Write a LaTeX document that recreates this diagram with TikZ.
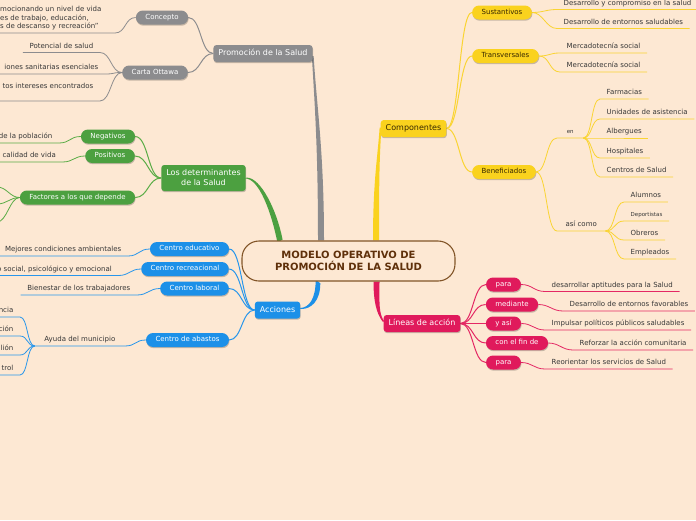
\documentclass[tikz,border=0pt]{standalone}
\usepackage{fontspec}
\setmainfont{DejaVu Sans}
\usetikzlibrary{calc,shadows}
\definecolor{bgc}{RGB}{253,232,211}
\definecolor{gcol}{RGB}{140,140,142}
\definecolor{gln}{RGB}{140,140,142}
\definecolor{grn}{RGB}{76,160,64}
\definecolor{grnl}{RGB}{90,172,70}
\definecolor{blu}{RGB}{28,144,232}
\definecolor{blul}{RGB}{40,150,235}
\definecolor{yel}{RGB}{250,210,30}
\definecolor{yell}{RGB}{250,212,50}
\definecolor{pnk}{RGB}{224,26,92}
\definecolor{pnkl}{RGB}{228,40,100}
\definecolor{brownb}{RGB}{130,85,40}
\definecolor{brownt}{RGB}{95,48,10}
\definecolor{leaftxt}{RGB}{55,55,55}
\definecolor{ytxt}{RGB}{55,40,0}
\pgfdeclarelayer{bg}
\pgfdeclarelayer{edges}
\pgfsetlayers{bg,edges,main}
\newcommand\mybranch[6]{\fill[#1] ($(#2)-(#6)$) .. controls +(#4) and +(#5) .. ($(#3)-0.3*(#6)$) -- ($(#3)+0.3*(#6)$) .. controls +(#5) and +(#4) .. ($(#2)+(#6)$) -- cycle;}
\newcommand\conR[3]{\draw[#1] (#2) .. controls +(11,0) and +(-11,0) .. (#3.south west) -- (#3.south east);}
\newcommand\conL[3]{\draw[#1] (#2) .. controls +(-11,0) and +(11,0) .. (#3.south east) -- (#3.south west);}
\newcommand\linkR[3]{\draw[#1] (#2.east) .. controls +(13,0) and +(-13,0) .. (#3.west);}
\newcommand\linkL[3]{\draw[#1] (#2.west) .. controls +(-13,0) and +(13,0) .. (#3.east);}
\tikzset{
  shad/.style={drop shadow={shadow xshift=0.5pt,shadow yshift=-1.2pt,opacity=0.22,fill=black}},
  mainn/.style={shad,rounded corners=3pt,minimum height=17pt,inner xsep=5pt,inner ysep=0pt,
    font=\fontsize{8}{10}\selectfont,text height=6pt,text depth=1.8pt},
  subn/.style={shad,rounded corners=7pt,minimum height=14pt,inner xsep=9.5pt,inner ysep=0pt,
    font=\fontsize{7}{8.5}\selectfont,text height=5.2pt,text depth=1.5pt},
  leaf/.style={font=\fontsize{7}{8.5}\selectfont,text=leaftxt,inner xsep=6.5pt,inner ysep=2.5pt,
    text height=5.2pt,text depth=1.6pt},
  leafL/.style={leaf,anchor=south east},
  leafR/.style={leaf,anchor=south west},
  tiny/.style={font=\fontsize{5.5}{7}\selectfont},
  gl/.style={draw=gln,line width=1pt},
  gll/.style={draw=gln,line width=0.8pt},
  nl/.style={draw=grnl,line width=1pt},
  nll/.style={draw=grnl,line width=0.8pt},
  bl/.style={draw=blul,line width=1pt},
  bll/.style={draw=blul,line width=0.8pt},
  yl/.style={draw=yell,line width=1pt},
  yll/.style={draw=yell,line width=0.8pt},
  pl/.style={draw=pnkl,line width=1pt},
  pll/.style={draw=pnkl,line width=0.8pt},
}
\begin{document}
\begin{tikzpicture}[x=1pt,y=-1pt]
\useasboundingbox (0,0) rectangle (696,520);
\clip (0,0) rectangle (696,520);
\begin{pgfonlayer}{bg}
\fill[bgc] (0,0) rectangle (696,520);
\end{pgfonlayer}

% central node
\node[draw=brownb,line width=1.1pt,fill=bgc,rounded corners=17pt,minimum width=213pt,minimum height=40pt,
  align=center,font=\fontsize{10}{12}\selectfont\bfseries,text=brownt] (center) at (348.5,261)
  {MODELO OPERATIVO DE\\PROMOCIÓN DE LA SALUD};

% main branch nodes
\node[mainn,fill=gcol,text=white] (promo) at (263,53.5) {Promoción de la Salud};
\node[shad,rounded corners=3pt,minimum height=26pt,inner xsep=5pt,inner ysep=0pt,align=center,
  font=\fontsize{8}{10}\selectfont,fill=grn,text=white] (determ) at (203.5,178) {Los determinantes\\de la Salud};
\node[mainn,fill=blu,text=white] (acciones) at (277.5,310) {Acciones};
\node[mainn,fill=yel,text=ytxt] (comp) at (413.5,128.5) {Componentes};
\node[mainn,fill=pnk,text=white] (lineas) at (422,323.5) {Líneas de acción};

% gray sub nodes
\node[subn,fill=gcol,text=white] (concepto) at (162,17.5) {Concepto};
\node[subn,fill=gcol,text=white] (ottawa) at (155,72.5) {Carta Ottawa};
% green sub nodes
\node[subn,fill=grn,text=white] (neg) at (108,136.5) {Negativos};
\node[subn,fill=grn,text=white] (pos) at (110,156) {Positivos};
\node[subn,fill=grn,text=white] (fact) at (77.5,197.5) {Factores a los que depende};
% blue sub nodes
\node[subn,fill=blu,text=white] (educ) at (189.5,249) {Centro educativo};
\node[subn,fill=blu,text=white] (recre) at (185,269) {Centro recreacional};
\node[subn,fill=blu,text=white] (labo) at (194.5,288.5) {Centro laboral};
\node[subn,fill=blu,text=white] (abas) at (187.5,340) {Centro de abastos};
% yellow sub nodes
\node[subn,fill=yel,text=ytxt] (sust) at (502,12.5) {Sustantivos};
\node[subn,fill=yel,text=ytxt] (trans) at (505.5,56) {Transversales};
\node[subn,fill=yel,text=ytxt] (benef) at (504,172) {Beneficiados};
% pink sub nodes
\node[subn,fill=pnk,text=white] (para1) at (503.5,284.5) {para};
\node[subn,fill=pnk,text=white] (mediante) at (512,304.5) {mediante};
\node[subn,fill=pnk,text=white] (yasi) at (503.5,323.5) {y así};
\node[subn,fill=pnk,text=white] (confin) at (517,343) {con el fin de};
\node[subn,fill=pnk,text=white] (para2) at (503.5,362.5) {para};

% gray leaves
\node[anchor=north west,inner sep=0pt,align=left,font=\fontsize{7}{8.5}\selectfont,text=leaftxt] (conctext) at (0,6.2)
  {mocionando un nivel de vida\\es de trabajo, educación,\\s de descanso y recreación"};
\coordinate (cU) at (115,33);
\coordinate (cUL) at (-5,33);
\node[leafL] (pot) at (100,52.5) {Potencial de salud};
\node[leafL] (san) at (105,74) {iones sanitarias esenciales};
\node[leafL,text depth=10pt] (inter) at (100,101) {tos intereses encontrados};
% green leaves
\node[leafL] (pob) at (59,143) {de la población};
\node[leafL] (cal) at (62.5,162) {a calidad de vida};
\coordinate (f1) at (-3,187);
\coordinate (f2) at (-3,204);
\coordinate (f3) at (-3,222);
% blue leaves
\node[leafL] (amb) at (128,256) {Mejores condiciones ambientales};
\node[leafL] (psi) at (118.5,275.5) {o social, psicológico y emocional};
\node[leafL] (bien) at (137,295) {Bienestar de los trabajadores};
\node[leafL,inner xsep=9.5pt] (ayuda) at (125,346) {Ayuda del municipio};
\node[leafL] (a1) at (20,317) {ncia};
\node[leafL] (a2) at (20,336) {ción};
\node[leafL] (a3) at (20,355) {lión};
\node[leafL] (a4) at (20,375) {trol};
% yellow leaves
\node[leafR] (s1) at (557,9.5) {Desarrollo y compromiso en la salud};
\node[leafR] (s2) at (557,28.5) {Desarrollo de entornos saludables};
\node[leafR] (t1) at (560,53) {Mercadotecnía social};
\node[leafR] (t2) at (560,72) {Mercadotecnía social};
\node[leafR,tiny,minimum width=26pt] (en) at (557,138) {en};
\node[leafR] (b1) at (600,99) {Farmacias};
\node[leafR] (b2) at (600,119) {Unidades de asistencia};
\node[leafR] (b3) at (600,138) {Albergues};
\node[leafR] (b4) at (600,158) {Hospitales};
\node[leafR] (b5) at (600,177) {Centros de Salud};
\node[leafR,minimum width=48pt] (asi) at (557,231) {así como};
\node[leafR] (c1) at (624,202) {Alumnos};
\node[leafR,tiny] (c2) at (624,221) {Deportistas};
\node[leafR] (c3) at (624,240) {Obreros};
\node[leafR] (c4) at (624,259) {Empleados};
% pink leaves
\node[leafR] (p1) at (545,291.5) {desarrollar aptitudes para la Salud};
\node[leafR] (p2) at (563,311) {Desarrollo de entornos favorables};
\node[leafR] (p3) at (545,330) {Impulsar políticos públicos saludables};
\node[leafR] (p4) at (573,350) {Reforzar la acción comunitaria};
\node[leafR] (p5) at (545,369) {Reorientar los servicios de Salud};

\begin{pgfonlayer}{edges}
% main tapered branches
\mybranch{gcol}{$(center.north)+(-27.5,0)$}{$(promo.east)+(0,2.5)$}{0,-90}{3,50}{3,0}
\mybranch{grn}{$(center.north)+(-68.5,0.5)$}{determ.east}{-6,-30}{14,0}{2.6,-1.4}
\mybranch{blu}{$(center.south)+(-30.5,0)$}{$(acciones.east)+(0,-1.5)$}{0,18}{10,0}{2.3,1.7}
\mybranch{yel}{$(center.north)+(27.5,0)$}{$(comp.west)+(0,-1)$}{0,-60}{-2,30}{3,0}
\mybranch{pnk}{$(center.south)+(28,0)$}{$(lineas.west)+(0,-2)$}{0,20}{-6,-8}{3,0}
% gray
\linkL{gl}{promo}{concepto}
\linkL{gl}{promo}{ottawa}
\draw[gll] (concepto.west) .. controls +(-11,0) and +(11,0) .. (cU) -- (cUL);
\conL{gll}{ottawa.west}{pot}
\conL{gll}{ottawa.west}{san}
\conL{gll}{ottawa.west}{inter}
% green
\linkL{nl}{determ}{neg}
\linkL{nl}{determ}{pos}
\linkL{nl}{determ}{fact}
\conL{nll}{neg.west}{pob}
\conL{nll}{pos.west}{cal}
\draw[nll] (fact.west) .. controls +(-10,0) and +(10,0) .. (f1);
\draw[nll] (fact.west) .. controls +(-10,0) and +(10,0) .. (f2);
\draw[nll] (fact.west) .. controls +(-10,0) and +(10,0) .. (f3);
% blue
\linkL{bl}{acciones}{educ}
\linkL{bl}{acciones}{recre}
\linkL{bl}{acciones}{labo}
\linkL{bl}{acciones}{abas}
\conL{bll}{educ.west}{amb}
\conL{bll}{recre.west}{psi}
\conL{bll}{labo.west}{bien}
\conL{bll}{abas.west}{ayuda}
\draw[bll] (ayuda.south west) .. controls +(-8,0) and +(8,0) .. (a1.south east) -- (a1.south west);
\draw[bll] (ayuda.south west) .. controls +(-8,0) and +(8,0) .. (a2.south east) -- (a2.south west);
\draw[bll] (ayuda.south west) .. controls +(-8,0) and +(8,0) .. (a3.south east) -- (a3.south west);
\draw[bll] (ayuda.south west) .. controls +(-8,0) and +(8,0) .. (a4.south east) -- (a4.south west);
% yellow
\linkR{yl}{comp}{sust}
\linkR{yl}{comp}{trans}
\linkR{yl}{comp}{benef}
\conR{yll}{sust.east}{s1}
\conR{yll}{sust.east}{s2}
\conR{yll}{trans.east}{t1}
\conR{yll}{trans.east}{t2}
\conR{yll}{benef.east}{en}
\conR{yll}{benef.east}{asi}
\foreach \b in {b1,b2,b3,b4,b5}{
  \draw[yll] (en.south east) .. controls +(9,0) and +(-9,0) .. (\b.south west) -- (\b.south east);}
\foreach \c in {c1,c2,c3,c4}{
  \draw[yll] (asi.south east) .. controls +(10,0) and +(-10,0) .. (\c.south west) -- (\c.south east);}
% pink
\linkR{pl}{lineas}{para1}
\linkR{pl}{lineas}{mediante}
\linkR{pl}{lineas}{yasi}
\linkR{pl}{lineas}{confin}
\linkR{pl}{lineas}{para2}
\conR{pll}{para1.east}{p1}
\conR{pll}{mediante.east}{p2}
\conR{pll}{yasi.east}{p3}
\conR{pll}{confin.east}{p4}
\conR{pll}{para2.east}{p5}
\end{pgfonlayer}
\end{tikzpicture}
\end{document}
